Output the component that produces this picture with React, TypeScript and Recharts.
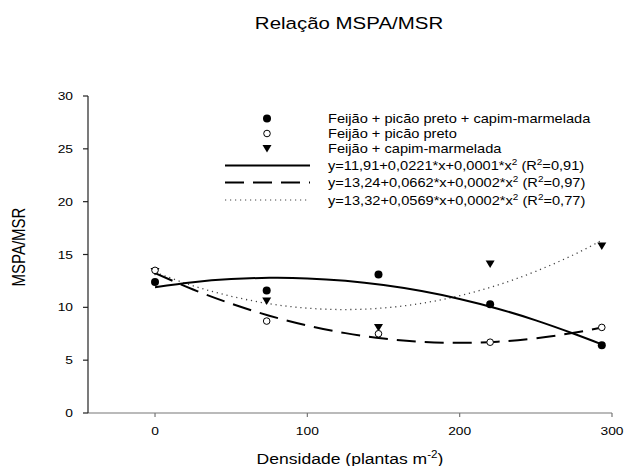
import React from 'react';
import { ComposedChart, Line, Scatter, XAxis, YAxis } from 'recharts';

// ---- data ----
const densities = [0, 73.3, 146.7, 220, 293.3];
const obsAll = [12.4, 11.6, 13.1, 10.3, 6.4]; // Feijão + picão preto + capim-marmelada
const obsPicao = [13.5, 8.7, 7.5, 6.7, 8.1]; // Feijão + picão preto
const obsCapim = [13.4, 10.6, 8.1, 14.1, 15.8]; // Feijão + capim-marmelada

const curveX = [0, 25, 50, 75, 100, 125, 150, 175, 200, 225, 250, 275, 293.3];
const fitAll = [11.91, 12.38, 12.67, 12.79, 12.74, 12.51, 12.11, 11.54, 10.79, 9.87, 8.77, 7.5, 6.5];
const fitPicao = [13.24, 11.69, 10.35, 9.21, 8.28, 7.56, 7.05, 6.74, 6.64, 6.75, 7.07, 7.59, 8.09];
const fitCapim = [13.32, 12.04, 11.05, 10.34, 9.92, 9.79, 9.94, 10.38, 11.1, 12.11, 13.41, 14.99, 16.35];

const seriesNames = [
  'Feijão + picão preto + capim-marmelada',
  'Feijão + picão preto',
  'Feijão + capim-marmelada',
];
const fitLabels = [
  { a: '11,91', b: '0,0221', c: '0,0001', r2: '0,91' },
  { a: '13,24', b: '0,0662', c: '0,0002', r2: '0,97' },
  { a: '13,32', b: '0,0569', c: '0,0002', r2: '0,77' },
];
const xTicks = [0, 100, 200, 300];
const yTicks = [0, 5, 10, 15, 20, 25, 30];
const title = 'Relação MSPA/MSR';
const xLabel = 'Densidade (plantas m';
const yLabel = 'MSPA/MSR';

const toPts = (xs: number[], ys: number[]) => xs.map((x, i) => ({ x, y: ys[i] }));
const ptsAll = toPts(densities, obsAll);
const ptsPicao = toPts(densities, obsPicao);
const ptsCapim = toPts(densities, obsCapim);
const crvAll = toPts(curveX, fitAll);
const crvPicao = toPts(curveX, fitPicao);
const crvCapim = toPts(curveX, fitCapim);

const FONT = '"Liberation Sans", Arial, sans-serif';
const SX = 1.2;

const FilledCircle = (p: any) => <circle cx={p.cx} cy={p.cy} r={4} fill="#000" />;
const OpenCircle = (p: any) => (
  <circle cx={p.cx} cy={p.cy} r={3.3} fill="#fff" stroke="#000" strokeWidth={1} />
);
const TriDown = (p: any) => (
  <path
    d={`M${p.cx - 4.5},${p.cy - 3.5} L${p.cx + 4.5},${p.cy - 3.5} L${p.cx},${p.cy + 4} Z`}
    fill="#000"
  />
);

const XTick = (p: any) => (
  <text
    transform={`translate(${p.x},${p.y + 16}) scale(${SX},1)`}
    textAnchor="middle"
    fontFamily={FONT}
    fontSize={11.5}
    fill="#000"
  >
    {p.payload.value}
  </text>
);
const YTick = (p: any) => (
  <text
    transform={`translate(${p.x - 8},${p.y + 4}) scale(${SX},1)`}
    textAnchor="end"
    fontFamily={FONT}
    fontSize={11.5}
    fill="#000"
  >
    {p.payload.value}
  </text>
);

const LegText = ({ x, y, children }: any) => (
  <text
    transform={`translate(${x},${y}) scale(1.17,1)`}
    fontFamily={FONT}
    fontSize={12.5}
    fill="#000"
  >
    {children}
  </text>
);

const Overlay = () => {
  const rows = [118.5, 133.5, 148.5, 165.5, 182.5, 200];
  const symX = 267;
  const tx = 328;
  const off = 4.5;
  return (
    <svg
      width={625}
      height={466}
      style={{ position: 'absolute', left: 0, top: 0, pointerEvents: 'none' }}
    >
      <text
        transform={`translate(349,29) scale(1.24,1)`}
        textAnchor="middle"
        fontFamily={FONT}
        fontSize={16.5}
        fill="#000"
      >
        {title}
      </text>
      <text
        transform={`translate(350,464) scale(1.17,1)`}
        textAnchor="middle"
        fontFamily={FONT}
        fontSize={15}
        fill="#000"
      >
        {xLabel}
        <tspan fontSize={10} dy={-6}>-2</tspan>
        <tspan dy={6}>)</tspan>
      </text>
      <text
        transform={`translate(25,247) scale(1.2,1) rotate(-90)`}
        textAnchor="middle"
        fontFamily={FONT}
        fontSize={15}
        fill="#000"
      >
        {yLabel}
      </text>
      {/* legend */}
      <circle cx={symX} cy={rows[0]} r={4} fill="#000" />
      <circle cx={symX} cy={rows[1]} r={3.3} fill="#fff" stroke="#000" strokeWidth={1} />
      <path
        d={`M${symX - 4.5},${rows[2] - 3.5} L${symX + 4.5},${rows[2] - 3.5} L${symX},${rows[2] + 4} Z`}
        fill="#000"
      />
      <line x1={225} x2={310} y1={rows[3]} y2={rows[3]} stroke="#000" strokeWidth={2} />
      <line
        x1={225}
        x2={310}
        y1={rows[4]}
        y2={rows[4]}
        stroke="#000"
        strokeWidth={2}
        strokeDasharray="19 9"
      />
      <line
        x1={225}
        x2={310}
        y1={rows[5]}
        y2={rows[5]}
        stroke="#444"
        strokeWidth={1.2}
        strokeDasharray="1.2 3.8"
      />
      {seriesNames.map((n, i) => (
        <LegText key={n} x={tx} y={rows[i] + off}>
          {n}
        </LegText>
      ))}
      {fitLabels.map((f, i) => (
        <LegText key={i} x={tx} y={rows[3 + i] + off}>
          {`y=${f.a}+${f.b}*x+${f.c}*x`}
          <tspan fontSize={8.5} dy={-5}>2</tspan>
          <tspan dy={5}>{' (R'}</tspan>
          <tspan fontSize={8.5} dy={-5}>2</tspan>
          <tspan dy={5}>{`=${f.r2})`}</tspan>
        </LegText>
      ))}
    </svg>
  );
};

export default function App() {
  return (
    <div style={{ position: 'absolute', left: 0, top: 0, width: 625, height: 466, background: '#fff' }}>
      <ComposedChart
        width={625}
        height={466}
        margin={{ top: 96, right: 13, bottom: 23, left: 28 }}
      >
        <XAxis
          type="number"
          dataKey="x"
          domain={[-44, 300]}
          ticks={xTicks}
          allowDataOverflow
          height={30}
          tickSize={4}
          axisLine={{ stroke: '#777', strokeWidth: 1.2 }}
          tickLine={{ stroke: '#777', strokeWidth: 1.2 }}
          tick={<XTick />}
        />
        <YAxis
          type="number"
          dataKey="y"
          domain={[0, 30]}
          ticks={yTicks}
          allowDataOverflow
          width={60}
          tickSize={5}
          axisLine={{ stroke: '#222', strokeWidth: 1.2 }}
          tickLine={{ stroke: '#222', strokeWidth: 1.2 }}
          tick={<YTick />}
        />
        <Line
          data={crvCapim}
          dataKey="y"
          type="natural"
          stroke="#444"
          strokeWidth={1.3}
          strokeDasharray="1.2 3.8"
          dot={false}
          activeDot={false}
          isAnimationActive={false}
        />
        <Line
          data={crvPicao}
          dataKey="y"
          type="natural"
          stroke="#000"
          strokeWidth={2}
          strokeDasharray="19 9"
          dot={false}
          activeDot={false}
          isAnimationActive={false}
        />
        <Line
          data={crvAll}
          dataKey="y"
          type="natural"
          stroke="#000"
          strokeWidth={2}
          dot={false}
          activeDot={false}
          isAnimationActive={false}
        />
        <Scatter data={ptsCapim} dataKey="y" shape={TriDown} isAnimationActive={false} />
        <Scatter data={ptsPicao} dataKey="y" shape={OpenCircle} isAnimationActive={false} />
        <Scatter data={ptsAll} dataKey="y" shape={FilledCircle} isAnimationActive={false} />
      </ComposedChart>
      <Overlay />
    </div>
  );
}
